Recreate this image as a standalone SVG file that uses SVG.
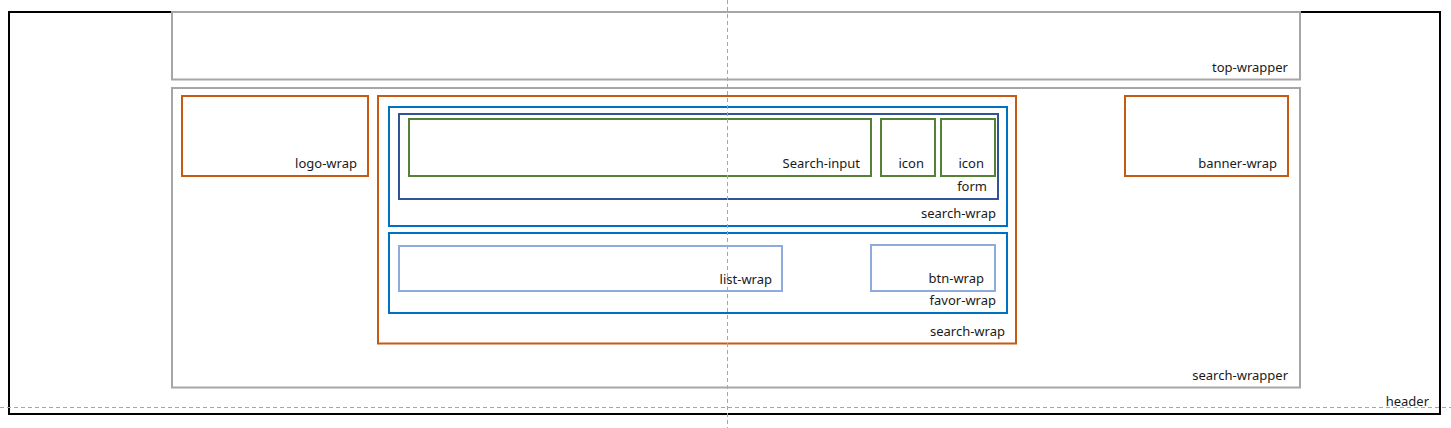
<svg xmlns="http://www.w3.org/2000/svg" width="1451" height="428" viewBox="0 0 1451 428">
<style>
rect{fill:none;stroke-width:2}
text{font-family:"Noto Sans","Liberation Sans",sans-serif;font-size:13px;fill:#1a1a1a;text-anchor:end}
.blk{stroke:#000}
.gray{stroke:#a6a6a6}
.org{stroke:#c55a11}
.blu{stroke:#0070c0}
.dblu{stroke:#2f5597}
.grn{stroke:#548235}
.lblu{stroke:#8faadc}
.guide{stroke:#a6a6a6;stroke-width:1;stroke-dasharray:4 3;fill:none}
</style>
<rect width="1451" height="428" fill="#fff" stroke="none"/>
<g id="header"><rect class="blk" x="9" y="12" width="1431" height="402"/><text x="1429" y="406">header</text></g>
<g id="top-wrapper"><rect class="gray" x="172" y="12" width="1128" height="67.5"/><text x="1288" y="72">top-wrapper</text></g>
<g id="search-wrapper"><rect class="gray" x="172" y="88" width="1128" height="299.5"/><text x="1288" y="380">search-wrapper</text></g>
<g id="logo-wrap"><rect class="org" x="182" y="96" width="186" height="80"/><text x="357" y="168">logo-wrap</text></g>
<g id="banner-wrap"><rect class="org" x="1125" y="96" width="163" height="80"/><text x="1277" y="168">banner-wrap</text></g>
<g id="search-wrap-outer"><rect class="org" x="378" y="96" width="638" height="247.5"/><text x="1005" y="336">search-wrap</text></g>
<g id="search-wrap-inner"><rect class="blu" x="389" y="107" width="618" height="119"/><text x="996" y="218">search-wrap</text></g>
<g id="form"><rect class="dblu" x="399" y="114" width="599" height="85"/><text x="987" y="191">form</text></g>
<g id="search-input"><rect class="grn" x="409" y="119" width="462" height="57"/><text x="860" y="168">Search-input</text></g>
<g id="icon1"><rect class="grn" x="881" y="119" width="54" height="57"/><text x="924" y="168">icon</text></g>
<g id="icon2"><rect class="grn" x="941" y="119" width="54" height="57"/><text x="984" y="168">icon</text></g>
<g id="favor-wrap"><rect class="blu" x="389" y="233" width="618" height="80"/><text x="996" y="305">favor-wrap</text></g>
<g id="list-wrap"><rect class="lblu" x="399" y="246" width="383" height="45"/><text x="772" y="284">list-wrap</text></g>
<g id="btn-wrap"><rect class="lblu" x="871" y="245" width="124" height="46"/><text x="984" y="283">btn-wrap</text></g>
<g id="connectors">
<line class="guide" x1="727.5" y1="0" x2="727.5" y2="428"/>
<line class="guide" x1="0" y1="407.5" x2="1451" y2="407.5"/>
</g>
</svg>
